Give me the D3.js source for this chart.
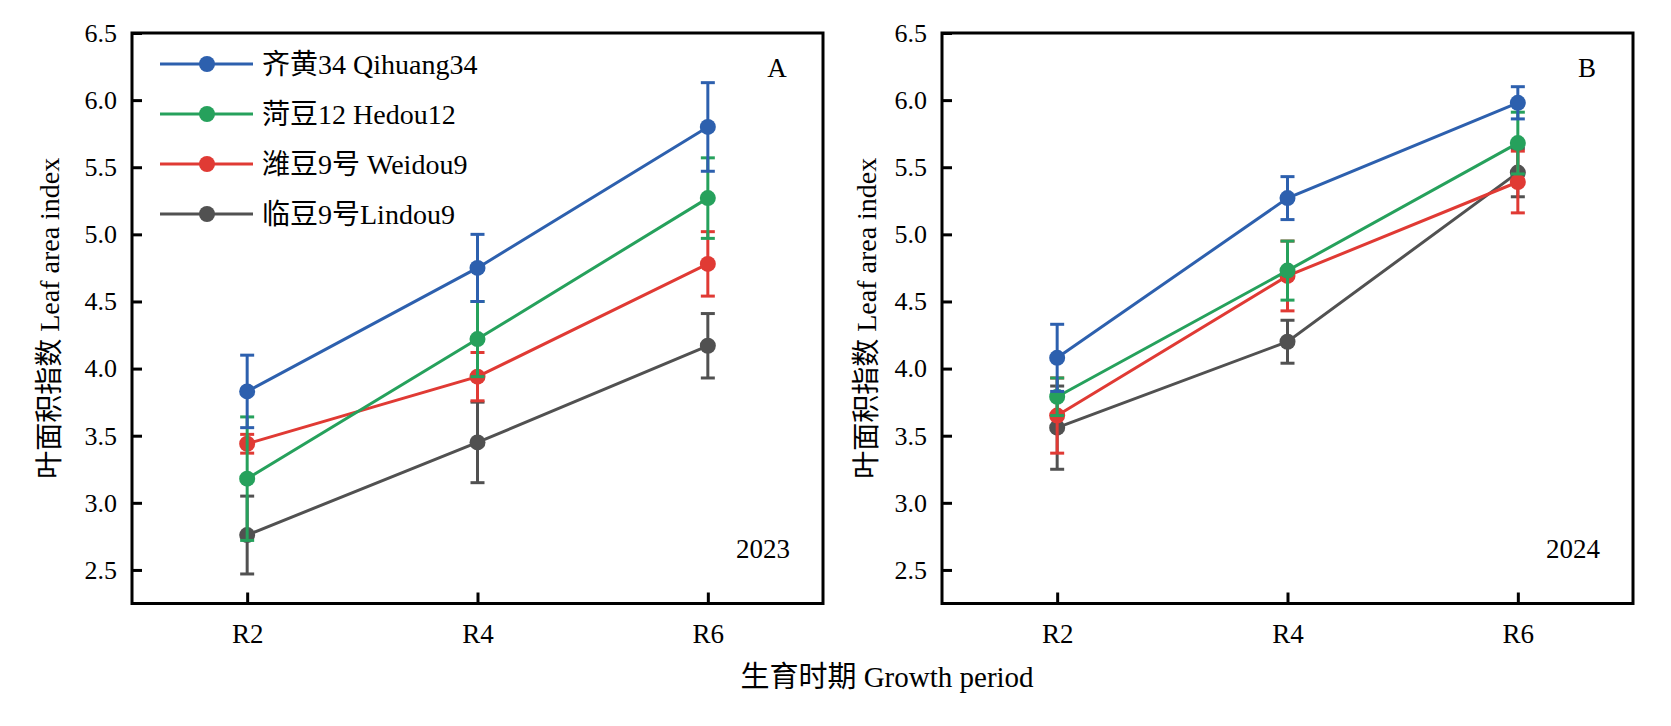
<!DOCTYPE html>
<html>
<head>
<meta charset="utf-8">
<script src="https://cdn.jsdelivr.net/npm/d3@7"></script>
<style>
  body { margin: 0; background: #fff; }
  text { font-family: "Liberation Serif", "Times New Roman", "Noto Sans CJK SC", serif; fill: #000; }
</style>
</head>
<body>
<div id="chart"></div>
<script>
// growth stages on the x axis
const stages = ["R2", "R4", "R6"];
const cultivars = ["齐黄34 Qihuang34", "菏豆12 Hedou12", "潍豆9号 Weidou9", "临豆9号Lindou9"];
const yTicks = [2.5, 3.0, 3.5, 4.0, 4.5, 5.0, 5.5, 6.0, 6.5];

// 2023 leaf area index, mean and error per cultivar (R2, R4, R6)
const lai2023 = [
  [3.83, 4.75, 5.80],
  [3.18, 4.22, 5.27],
  [3.44, 3.94, 4.78],
  [2.76, 3.45, 4.17]
];
const err2023 = [
  [0.27, 0.25, 0.33],
  [0.46, 0.28, 0.30],
  [0.07, 0.18, 0.24],
  [0.29, 0.30, 0.24]
];

// 2024
const lai2024 = [
  [4.08, 5.27, 5.98],
  [3.79, 4.73, 5.68],
  [3.65, 4.69, 5.39],
  [3.56, 4.20, 5.46]
];
const err2024 = [
  [0.25, 0.16, 0.12],
  [0.14, 0.22, 0.23],
  [0.28, 0.26, 0.23],
  [0.31, 0.16, 0.18]
];

const colors = ["#2d60ae", "#26a15c", "#e03a34", "#515151"];

const W = 1671, H = 726;
const plotTop = 33, plotBottom = 603.5;

const svg = d3.select("#chart").append("svg")
    .attr("width", W)
    .attr("height", H)
    .style("background", "#fff");

const y = d3.scaleLinear().domain([2.25, 6.5]).range([plotBottom, plotTop]);

function panel(left, right, means, errs, letter, year, titleX, showLegend) {
    const x = d3.scalePoint().domain(stages).range([left, right]).padding(0.5);
    const g = svg.append("g");

    // y axis, ticks pointing inward
    g.append("g")
        .attr("transform", `translate(${left},0)`)
        .call(d3.axisLeft(y).tickValues(yTicks).tickFormat(d3.format(".1f")).tickSize(-10).tickPadding(15))
        .call(a => a.select(".domain").remove())
        .call(a => a.selectAll("line").attr("stroke", "#000").attr("stroke-width", 3))
        .call(a => a.selectAll("text").attr("font-size", 26).attr("font-family", "Liberation Serif"));

    g.append("g")
        .attr("transform", `translate(0,${plotBottom})`)
        .call(d3.axisBottom(x).tickSize(-11).tickPadding(20))
        .call(a => a.select(".domain").remove())
        .call(a => a.selectAll("line").attr("stroke", "#000").attr("stroke-width", 3))
        .call(a => a.selectAll("text").attr("font-size", 27).attr("font-family", "Liberation Serif"));

    // frame
    g.append("rect")
        .attr("x", left).attr("y", plotTop)
        .attr("width", right - left).attr("height", plotBottom - plotTop)
        .attr("fill", "none").attr("stroke", "#000").attr("stroke-width", 3);

    const line = d3.line().x((d, i) => x(stages[i])).y(d => y(d));

    // draw back to front: gray, red, green, blue
    [3, 2, 1, 0].forEach(function(s) {
        const sg = g.append("g");
        const c = colors[s];
        sg.append("path")
            .attr("d", line(means[s]))
            .attr("fill", "none").attr("stroke", c).attr("stroke-width", 3);

        const eb = sg.selectAll(".eb").data(means[s]).enter().append("g");
        eb.append("line")
            .attr("x1", (d, i) => x(stages[i])).attr("x2", (d, i) => x(stages[i]))
            .attr("y1", (d, i) => y(d - errs[s][i])).attr("y2", (d, i) => y(d + errs[s][i]))
            .attr("stroke", c).attr("stroke-width", 3);
        [-1, 1].forEach(function(sign) {
            eb.append("line")
                .attr("x1", (d, i) => x(stages[i]) - 7).attr("x2", (d, i) => x(stages[i]) + 7)
                .attr("y1", (d, i) => y(d + sign * errs[s][i])).attr("y2", (d, i) => y(d + sign * errs[s][i]))
                .attr("stroke", c).attr("stroke-width", 3);
        });

        sg.selectAll("circle").data(means[s]).enter().append("circle")
            .attr("cx", (d, i) => x(stages[i]))
            .attr("cy", d => y(d))
            .attr("r", 8)
            .attr("fill", c);
    });

    g.append("text")
        .attr("x", right - 46).attr("y", 77)
        .attr("text-anchor", "middle")
        .attr("font-size", 27)
        .text(letter);

    g.append("text")
        .attr("x", right - 33).attr("y", 558)
        .attr("text-anchor", "end")
        .attr("font-size", 27)
        .text(year);

    g.append("text")
        .attr("transform", `translate(${titleX},${(plotTop + plotBottom) / 2}) rotate(-90)`)
        .attr("text-anchor", "middle")
        .attr("dy", "0.35em")
        .attr("font-size", 28)
        .text("叶面积指数 Leaf area index");

    if (showLegend) {
        const lg = g.append("g");
        cultivars.forEach(function(name, i) {
            const ly = 64 + i * 50;
            lg.append("line")
                .attr("x1", 160).attr("x2", 253)
                .attr("y1", ly).attr("y2", ly)
                .attr("stroke", colors[i]).attr("stroke-width", 3);
            lg.append("circle")
                .attr("cx", 207).attr("cy", ly).attr("r", 8)
                .attr("fill", colors[i]);
            lg.append("text")
                .attr("x", 262).attr("y", ly)
                .attr("dy", "0.36em")
                .attr("font-size", 28)
                .text(name);
        });
    }
}

panel(132, 823, lai2023, err2023, "A", "2023", 49, true);
panel(942, 1633, lai2024, err2024, "B", "2024", 866, false);

svg.append("text")
    .attr("x", 887).attr("y", 687)
    .attr("text-anchor", "middle")
    .attr("font-size", 29)
    .text("生育时期 Growth period");
</script>
</body>
</html>
